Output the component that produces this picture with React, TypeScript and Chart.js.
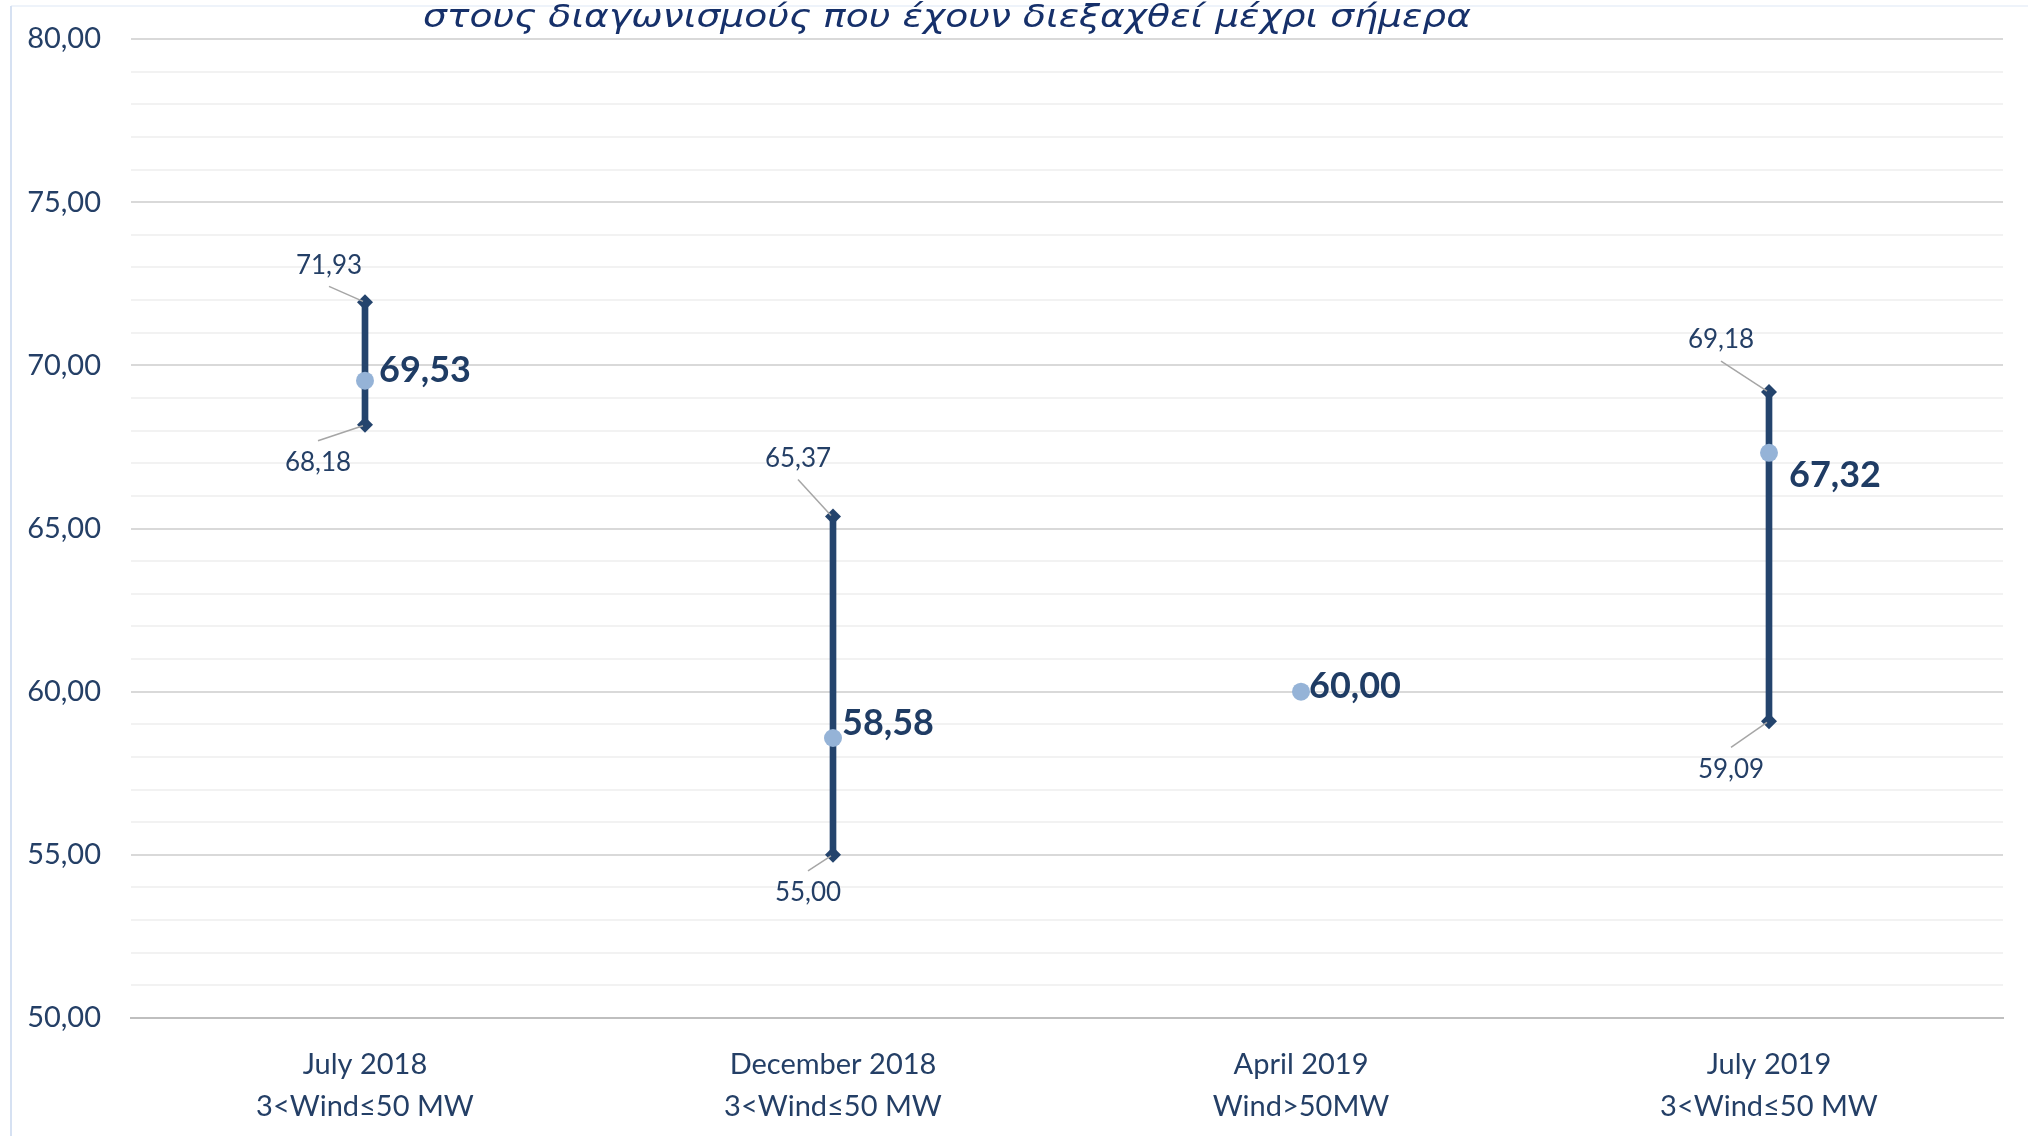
import React, { useEffect, useRef } from "react";
import { Chart, registerables } from "chart.js";

Chart.register(...registerables);

// ---- data ----
const titleText = "στους διαγωνισμούς που έχουν διεξαχθεί μέχρι σήμερα";
const periodLabels = ["July 2018", "December 2018", "April 2019", "July 2019"];
const segmentLabels = ["3<Wind≤50 MW", "3<Wind≤50 MW", "Wind>50MW", "3<Wind≤50 MW"];
const lowValues: (number | null)[] = [68.18, 55.0, null, 59.09];
const highValues: (number | null)[] = [71.93, 65.37, null, 69.18];
const avgValues: number[] = [69.53, 58.58, 60.0, 67.32];
const yMin = 50;
const yMax = 80;
const yMajorStep = 5;

// ---- label placement (style only) ----
const highLabelOffsets: ([number, number] | null)[] = [[-36, -37], [-35, -58], null, [-48, -52]];
const lowLabelOffsets: ([number, number] | null)[] = [[-47, 38], [-25, 38], null, [-38, 48]];
const avgLabelOffsets: [number, number][] = [[14, -10], [9, -15], [8, -5], [20, 23]];

const NAVY = "#24446D";
const TEXT = "#243F66";
const LIGHT = "#95B3D7";
const FONT = "Lato, 'Noto Sans', sans-serif";

const fmt = (v: number) => v.toFixed(2).replace(".", ",");

export default function App() {
  const ref = useRef<HTMLCanvasElement | null>(null);

  useEffect(() => {
    if (!ref.current) return;

    const decorPlugin = {
      id: "decor",
      beforeDraw(chart: any) {
        const ctx = chart.ctx;
        ctx.save();
        ctx.fillStyle = "#ffffff";
        ctx.fillRect(0, 0, chart.width, chart.height);
        ctx.strokeStyle = "#EEF3FA";
        ctx.lineWidth = 2;
        ctx.beginPath();
        ctx.moveTo(11, 6);
        ctx.lineTo(chart.width, 6);
        ctx.stroke();
        ctx.strokeStyle = "#D6E1F2";
        ctx.beginPath();
        ctx.moveTo(11, 6);
        ctx.lineTo(11, chart.height);
        ctx.stroke();
        ctx.restore();
      },
      afterDraw(chart: any) {
        const ctx = chart.ctx;
        ctx.save();
        ctx.font = "italic 32px 'DejaVu Sans', sans-serif";
        ctx.fillStyle = "#16306A";
        ctx.textBaseline = "alphabetic";
        ctx.textAlign = "left";
        const w = ctx.measureText(titleText).width;
        const target = 1048;
        const sx = target / w;
        ctx.translate(423, 27);
        ctx.scale(sx, 1);
        ctx.fillText(titleText, 0, 0);
        ctx.restore();
      },
    };

    const labelPlugin = {
      id: "rangeLabels",
      afterDatasetsDraw(chart: any) {
        const ctx = chart.ctx;
        const hiMeta = chart.getDatasetMeta(1);
        const loMeta = chart.getDatasetMeta(2);
        const avgMeta = chart.getDatasetMeta(3);
        ctx.save();
        const drawSmall = (meta: any, values: (number | null)[], offs: ([number, number] | null)[], above: boolean) => {
          values.forEach((v, i) => {
            const off = offs[i];
            if (v == null || !off) return;
            const el = meta.data[i];
            const tx = el.x + off[0];
            const ty = el.y + off[1];
            ctx.strokeStyle = "#A6A6A6";
            ctx.lineWidth = 1.5;
            ctx.beginPath();
            ctx.moveTo(tx, ty + (above ? 21 : -22));
            ctx.lineTo(el.x - 2, el.y + (above ? -1 : 1));
            ctx.stroke();
            ctx.font = `26px ${FONT}`;
            ctx.fillStyle = TEXT;
            ctx.textAlign = "center";
            ctx.textBaseline = "middle";
            ctx.fillText(fmt(v), tx, ty);
          });
        };
        drawSmall(hiMeta, highValues, highLabelOffsets, true);
        drawSmall(loMeta, lowValues, lowLabelOffsets, false);
        avgValues.forEach((v, i) => {
          const el = avgMeta.data[i];
          const off = avgLabelOffsets[i];
          ctx.font = `bold 36px ${FONT}`;
          ctx.fillStyle = "#1F3C64";
          ctx.textAlign = "left";
          ctx.textBaseline = "middle";
          ctx.fillText(fmt(v), el.x + off[0], el.y + off[1]);
        });
        ctx.restore();
      },
    };

    const labels = periodLabels.map((p, i) => [p, segmentLabels[i]]);
    const rangeData = lowValues.map((lo, i) => {
      const hi = highValues[i];
      return lo == null || hi == null ? null : [lo, hi];
    });

    const chart = new Chart(ref.current, {
      type: "bar",
      data: {
        labels,
        datasets: [
          {
            type: "bar",
            data: rangeData as any,
            backgroundColor: NAVY,
            barThickness: 6,
            order: 3,
          },
          {
            type: "line",
            data: highValues,
            showLine: false,
            pointStyle: "rectRot",
            pointRadius: 8,
            pointBackgroundColor: NAVY,
            pointBorderColor: NAVY,
            pointBorderWidth: 0,
            order: 2,
          },
          {
            type: "line",
            data: lowValues,
            showLine: false,
            pointStyle: "rectRot",
            pointRadius: 8,
            pointBackgroundColor: NAVY,
            pointBorderColor: NAVY,
            pointBorderWidth: 0,
            order: 1,
          },
          {
            type: "line",
            data: avgValues,
            showLine: false,
            pointStyle: "circle",
            pointRadius: 9,
            pointBackgroundColor: LIGHT,
            pointBorderColor: LIGHT,
            pointBorderWidth: 0,
            order: 0,
          },
        ] as any,
      },
      options: {
        responsive: false,
        animation: false,
        layout: { padding: { top: 39, right: 25, left: 0, bottom: 0 } },
        plugins: {
          legend: { display: false },
          tooltip: { enabled: false },
          title: { display: false },
        },
        scales: {
          x: {
            type: "category",
            offset: true,
            grid: { display: false, drawTicks: false },
            border: { display: true, color: "#BFBFBF", width: 2 },
            ticks: {
              color: TEXT,
              font: { family: FONT, size: 29, lineHeight: 1.45 },
              padding: 26,
              maxRotation: 0,
              autoSkip: false,
            },
            afterFit(scale: any) {
              scale.height = 118;
              scale.paddingLeft = 0;
              scale.paddingRight = 0;
            },
          },
          y: {
            min: yMin,
            max: yMax,
            grid: {
              drawTicks: false,
              lineWidth: 2,
              color: (c: any) => {
                const v = c.tick?.value;
                if (v === yMin) return "#BFBFBF";
                return v % yMajorStep === 0 ? "#D9D9D9" : "#F2F2F2";
              },
            },
            border: { display: false },
            ticks: {
              stepSize: 1,
              autoSkip: false,
              padding: 30,
              color: TEXT,
              font: { family: FONT, size: 29 },
              callback: (v: any) => (Number(v) % yMajorStep === 0 ? fmt(Number(v)) : ""),
            },
            afterFit(scale: any) {
              scale.width = 131;
              scale.paddingTop = 0;
              scale.paddingBottom = 0;
            },
          },
        },
      },
      plugins: [decorPlugin, labelPlugin],
    });

    return () => chart.destroy();
  }, []);

  return (
    <div style={{ position: "fixed", left: 0, top: 0, width: 2028, height: 1136, background: "#fff" }}>
      <canvas ref={ref} width={2028} height={1136} style={{ display: "block" }} />
    </div>
  );
}
